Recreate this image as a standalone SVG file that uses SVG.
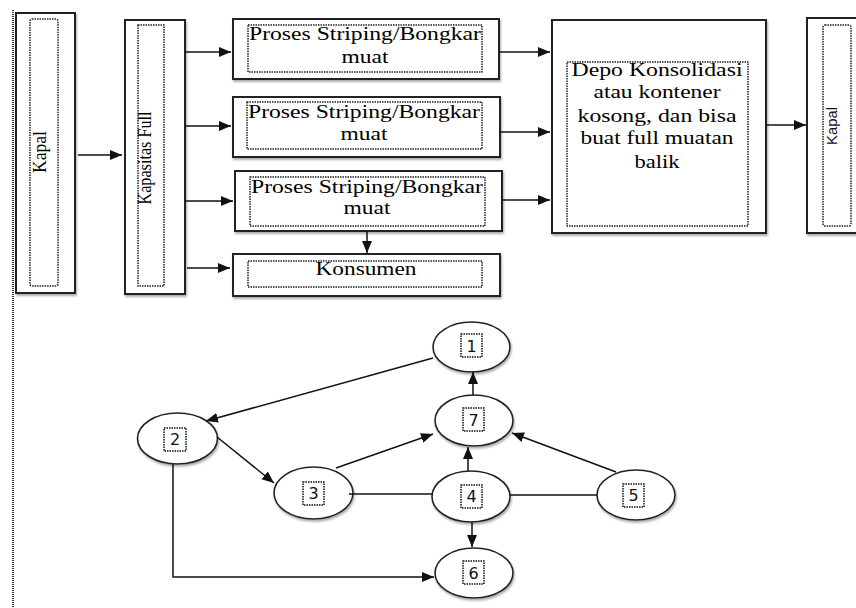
<svg xmlns="http://www.w3.org/2000/svg" width="856" height="608" viewBox="0 0 856 608">
<defs>
<marker id="ah" markerUnits="userSpaceOnUse" markerWidth="13" markerHeight="11" refX="12" refY="5.5" orient="auto">
<path d="M0,0.5 L12,5.5 L0,10.5 Z" fill="#111"/>
</marker>
<filter id="sh" x="-10%" y="-10%" width="130%" height="130%">
<feDropShadow dx="1" dy="2" stdDeviation="1" flood-color="#888" flood-opacity="0.7"/>
</filter>
</defs>
<style>
.box{fill:#fff;stroke:#222;stroke-width:2;filter:url(#sh)}
.dot{fill:none;stroke:#222;stroke-width:1.5;stroke-dasharray:1.5 1}
.ell{fill:#fff;stroke:#222;stroke-width:1.6;filter:url(#sh)}
.t{font-family:"Liberation Serif","Times New Roman",serif;font-size:18px;fill:#000;text-anchor:middle}
.n{font-family:"DejaVu Sans","Verdana",sans-serif;font-size:16px;fill:#111;text-anchor:middle}
.lb{fill:none;stroke:#111;stroke-width:1.5;stroke-dasharray:1.5 1}
.c{fill:none;stroke:#111;stroke-width:1.5}
.a{marker-end:url(#ah)}
</style>
<rect width="856" height="608" fill="#fff"/>
<line x1="13" y1="10" x2="13" y2="608" stroke="#333" stroke-width="2" stroke-dasharray="1 1"/>

<g id="kapal-left">
<rect class="box" x="16" y="13" width="59" height="280"/>
<rect class="dot" x="30" y="19" width="28" height="267" rx="2"/>
<text class="t" transform="translate(46,152) rotate(-90)" font-size="17" textLength="42" lengthAdjust="spacingAndGlyphs">Kapal</text>
</g>
<g id="kapasitas">
<rect class="box" x="125" y="20" width="60" height="274"/>
<rect class="dot" x="138" y="25" width="26" height="261"/>
<text class="t" transform="translate(151,158) rotate(-90)" font-size="16" textLength="93" lengthAdjust="spacingAndGlyphs">Kapasitas Full</text>
</g>
<g id="proses1">
<rect class="box" x="233" y="19" width="266" height="60"/>
<rect class="dot" x="248" y="25" width="234" height="47"/>
<text class="t" x="365" y="40" textLength="232" lengthAdjust="spacingAndGlyphs">Proses Striping/Bongkar</text>
<text class="t" x="365" y="63" textLength="47" lengthAdjust="spacingAndGlyphs">muat</text>
</g>
<g id="proses2">
<rect class="box" x="233" y="97" width="267" height="60"/>
<rect class="dot" x="247" y="102" width="235" height="47"/>
<text class="t" x="364" y="118" textLength="232" lengthAdjust="spacingAndGlyphs">Proses Striping/Bongkar</text>
<text class="t" x="364" y="140" textLength="47" lengthAdjust="spacingAndGlyphs">muat</text>
</g>
<g id="proses3">
<rect class="box" x="235" y="171" width="267" height="60"/>
<rect class="dot" x="250" y="177" width="235" height="49"/>
<text class="t" x="367" y="193" textLength="232" lengthAdjust="spacingAndGlyphs">Proses Striping/Bongkar</text>
<text class="t" x="367" y="214" textLength="47" lengthAdjust="spacingAndGlyphs">muat</text>
</g>
<g id="konsumen">
<rect class="box" x="233" y="254" width="267" height="42"/>
<rect class="dot" x="248" y="261" width="234" height="26"/>
<text class="t" x="366" y="275" textLength="101" lengthAdjust="spacingAndGlyphs">Konsumen</text>
</g>
<g id="depo">
<rect class="box" x="552" y="20" width="214" height="213"/>
<rect class="dot" x="567" y="62" width="181" height="164"/>
<text class="t" x="657" y="76" textLength="171" lengthAdjust="spacingAndGlyphs">Depo Konsolidasi</text>
<text class="t" x="657" y="98" textLength="127" lengthAdjust="spacingAndGlyphs">atau kontener</text>
<text class="t" x="657" y="122" textLength="159" lengthAdjust="spacingAndGlyphs">kosong, dan bisa</text>
<text class="t" x="657" y="144" textLength="153" lengthAdjust="spacingAndGlyphs">buat full muatan</text>
<text class="t" x="657" y="168" textLength="45" lengthAdjust="spacingAndGlyphs">balik</text>
</g>
<g id="kapal-right">
<rect class="box" x="807" y="18" width="60" height="215"/>
<rect class="dot" x="823" y="25" width="28" height="201" rx="2"/>
<text transform="translate(837,126) rotate(-90)" font-family="Liberation Sans, Arial, sans-serif" font-size="14" fill="#111" text-anchor="middle" textLength="38" lengthAdjust="spacingAndGlyphs">Kapal</text>
</g>

<g id="n1"><ellipse class="ell" cx="471.5" cy="347" rx="38.5" ry="25"/><rect class="lb" x="461" y="334" width="21" height="23"/><text class="n" x="471.5" y="352">1</text></g>
<g id="n7"><ellipse class="ell" cx="474" cy="420.5" rx="39" ry="25.5"/><rect class="lb" x="463" y="408" width="21" height="23"/><text class="n" x="473.5" y="426">7</text></g>
<g id="n2"><ellipse class="ell" cx="177.5" cy="438.5" rx="40" ry="25.5"/><rect class="lb" x="164" y="428" width="22" height="23"/><text class="n" x="175" y="445">2</text></g>
<g id="n3"><ellipse class="ell" cx="313.5" cy="493" rx="39.5" ry="26"/><rect class="lb" x="303" y="482" width="21" height="23"/><text class="n" x="313.5" y="499">3</text></g>
<g id="n4"><ellipse class="ell" cx="471" cy="496.5" rx="39" ry="25.5"/><rect class="lb" x="461" y="485" width="21" height="23"/><text class="n" x="471.5" y="502">4</text></g>
<g id="n5"><ellipse class="ell" cx="636" cy="495" rx="39" ry="25"/><rect class="lb" x="623" y="484" width="21" height="23"/><text class="n" x="633.5" y="501">5</text></g>
<g id="n6"><ellipse class="ell" cx="474" cy="573" rx="39" ry="25"/><rect class="lb" x="463" y="561" width="21" height="23"/><text class="n" x="473.5" y="579">6</text></g>

<g id="connectors">
<path class="c a" d="M78,155 L122,155"/>
<path class="c a" d="M185,52 L231,52"/>
<path class="c a" d="M185,126 L231,126"/>
<path class="c a" d="M185,201 L233,201"/>
<path class="c a" d="M187,268 L230,268"/>
<path class="c a" d="M499,52 L550,52"/>
<path class="c a" d="M500,132 L550,132"/>
<path class="c a" d="M502,200 L550,200"/>
<path class="c a" d="M367,231 L367,253"/>
<path class="c a" d="M766,125 L806,125"/>
<path class="c a" d="M433,358 L206,421"/>
<path class="c a" d="M217,437 L274,483"/>
<path class="c a" d="M336,468 L433,434"/>
<path class="c" d="M349,494 L432,494"/>
<path class="c" d="M510,495 L597,495"/>
<path class="c a" d="M468,471 L468,447"/>
<path class="c a" d="M473,395 L473,372"/>
<path class="c a" d="M616,472 L512,433"/>
<path class="c a" d="M472,522 L472,547"/>
<path class="c a" d="M173,464 L173,577 L434,577"/>
</g>
</svg>
